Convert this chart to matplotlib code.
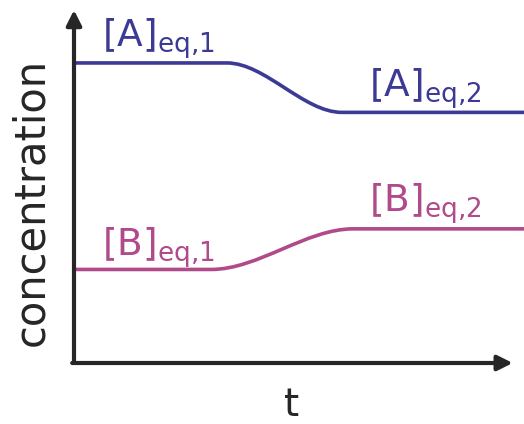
import matplotlib
matplotlib.use("Agg")
import matplotlib.pyplot as plt
from matplotlib.path import Path
from matplotlib.patches import PathPatch

# --- data (arbitrary units) ---
t_start = 0.0
t_end = 10.0
# A: flat, then falls to the new equilibrium
a_levels = [8.5, 7.1]
a_switch = [3.4, 5.95]
# B: flat, then rises to the new equilibrium
b_levels = [2.65, 3.8]
b_switch = [3.05, 6.2]

labels_a = [r"$\mathregular{[A]_{eq{,}1}}$", r"$\mathregular{[A]_{eq{,}2}}$"]
labels_b = [r"$\mathregular{[B]_{eq{,}1}}$", r"$\mathregular{[B]_{eq{,}2}}$"]
label_pos_a = [(0.62, 8.95), (6.55, 7.55)]
label_pos_b = [(0.62, 3.05), (6.55, 4.3)]

COL_A = "#3c3a94"
COL_B = "#b04a8a"
COL_AX = "#262626"

fig = plt.figure(figsize=(5.24, 4.24), dpi=100)
W, H = 524, 424
x0_px, y0_px = 74, 363
ax = fig.add_axes([x0_px / W, (H - y0_px) / H, (W - x0_px) / W, (y0_px - 10) / H])
ax.set_xlim(t_start, t_end)
ax.set_ylim(0, 10)
ax.axis("off")


def equil_curve(levels, switch, color):
    # flat - smooth S - flat, drawn as a cubic bezier between the two plateaus
    s0, s1 = switch
    y0, y1 = levels
    d = 0.33 * (s1 - s0)
    verts = [(t_start, y0), (s0, y0),
             (s0 + d, y0), (s1 - d, y1), (s1, y1),
             (t_end, y1)]
    codes = [Path.MOVETO, Path.LINETO,
             Path.CURVE4, Path.CURVE4, Path.CURVE4,
             Path.LINETO]
    patch = PathPatch(Path(verts, codes), facecolor="none", edgecolor=color,
                      lw=2.6, capstyle="butt", clip_on=False)
    ax.add_patch(patch)


equil_curve(a_levels, a_switch, COL_A)
equil_curve(b_levels, b_switch, COL_B)

fs = 27
for txt, (x, y) in zip(labels_a, label_pos_a):
    ax.text(x, y, txt, color=COL_A, fontsize=fs, ha="left", va="baseline")
for txt, (x, y) in zip(labels_b, label_pos_b):
    ax.text(x, y, txt, color=COL_B, fontsize=fs, ha="left", va="baseline")

# axes with arrow heads
arrow = dict(arrowstyle="-|>,head_length=0.9,head_width=0.45", color=COL_AX,
             lw=3, shrinkA=0, shrinkB=0)
ax.annotate("", xy=(0, 1.0), xytext=(0, 0), xycoords="axes fraction",
            arrowprops=arrow, annotation_clip=False)
ax.annotate("", xy=(0.975, 0), xytext=(-0.004, 0), xycoords="axes fraction",
            arrowprops=arrow, annotation_clip=False)

fig.text(31 / W, 1 - 202 / H, "concentration", rotation=90, fontsize=30,
         color=COL_AX, ha="center", va="center")
fig.text(292 / W, 1 - 405 / H, "t", fontsize=28, color=COL_AX,
         ha="center", va="center")

fig.savefig("out.png", dpi=100)
